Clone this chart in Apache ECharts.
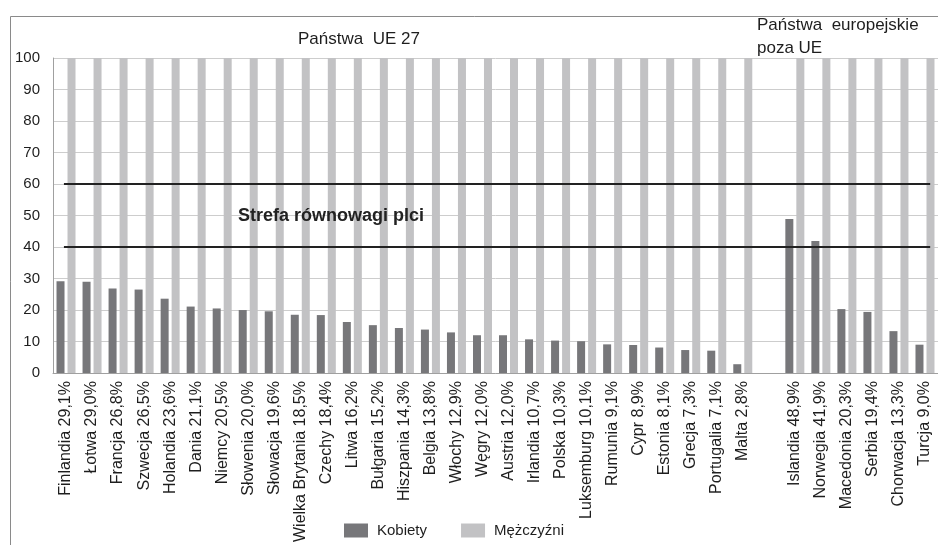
<!DOCTYPE html>
<html>
<head>
<meta charset="utf-8">
<script src="https://cdn.jsdelivr.net/npm/echarts@6/dist/echarts.min.js"></script>
<style>
html,body{margin:0;padding:0;background:#fff;}
#chart{width:938px;height:545px;}
</style>
</head>
<body>
<div id="chart"></div>
<script>
// ---- data ----
var categories = [
  'Finlandia 29,1%', 'Łotwa 29,0%', 'Francja 26,8%', 'Szwecja 26,5%', 'Holandia 23,6%',
  'Dania 21,1%', 'Niemcy 20,5%', 'Słowenia 20,0%', 'Słowacja 19,6%', 'Wielka Brytania 18,5%',
  'Czechy 18,4%', 'Litwa 16,2%', 'Bułgaria 15,2%', 'Hiszpania 14,3%', 'Belgia 13,8%',
  'Włochy 12,9%', 'Węgry 12,0%', 'Austria 12,0%', 'Irlandia 10,7%', 'Polska 10,3%',
  'Luksemburg 10,1%', 'Rumunia 9,1%', 'Cypr 8,9%', 'Estonia 8,1%', 'Grecja 7,3%',
  'Portugalia 7,1%', 'Malta 2,8%', '',
  'Islandia 48,9%', 'Norwegia 41,9%', 'Macedonia 20,3%', 'Serbia 19,4%', 'Chorwacja 13,3%', 'Turcja 9,0%'
];
var kobiety = [
  29.1, 29.0, 26.8, 26.5, 23.6,
  21.1, 20.5, 20.0, 19.6, 18.5,
  18.4, 16.2, 15.2, 14.3, 13.8,
  12.9, 12.0, 12.0, 10.7, 10.3,
  10.1, 9.1, 8.9, 8.1, 7.3,
  7.1, 2.8, null,
  48.9, 41.9, 20.3, 19.4, 13.3, 9.0
];
var mezczyzni = [
  100, 100, 100, 100, 100,
  100, 100, 100, 100, 100,
  100, 100, 100, 100, 100,
  100, 100, 100, 100, 100,
  100, 100, 100, 100, 100,
  100, 100, null,
  100, 100, 100, 100, 100, 100
];
var seriesNames = ['Kobiety', 'Mężczyźni'];
var yTicks = { min: 0, max: 100, interval: 10 };
var balanceLower = 40;
var balanceUpper = 60;
var groupTitles = ['Państwa  UE 27', 'Państwa  europejskie\npoza UE'];
var zoneLabel = 'Strefa równowagi plci';
// line extent on a hidden continuous x axis spanning the category slots
var lineStart = 0.42, lineEnd = 33.7;

var FONT = 'Liberation Sans, Arial, sans-serif';
var chart = echarts.init(document.getElementById('chart'));

var option = {
  animation: false,
  backgroundColor: '#ffffff',
  textStyle: { fontFamily: FONT },
  title: [
    { text: groupTitles[0], left: 298, top: 31, padding: 0,
      textStyle: { fontFamily: FONT, fontSize: 17, fontWeight: 'normal', color: '#1e1e1e' } },
    { text: groupTitles[1], left: 757, top: 14, padding: 0,
      textStyle: { fontFamily: FONT, fontSize: 17, fontWeight: 'normal', color: '#1e1e1e', lineHeight: 23 } }
  ],
  legend: {
    data: seriesNames,
    left: 344, top: 523, padding: 0,
    itemWidth: 24, itemHeight: 14, itemGap: 34,
    icon: 'rect',
    textStyle: { fontFamily: FONT, fontSize: 15, color: '#1e1e1e', padding: [0, 0, 0, 4] }
  },
  grid: { left: 53, right: 0, top: 58, bottom: 170, containLabel: false },
  xAxis: [
    {
      type: 'category',
      data: categories,
      axisLine: { lineStyle: { color: '#a0a0a0', width: 1 } },
      axisTick: { show: false },
      axisLabel: { interval: 0, rotate: 90, fontSize: 16, color: '#1e1e1e', margin: 8, fontFamily: FONT }
    },
    {
      type: 'value', min: 0, max: categories.length, show: false
    }
  ],
  yAxis: {
    type: 'value',
    min: yTicks.min, max: yTicks.max, interval: yTicks.interval,
    axisLine: { show: true, lineStyle: { color: '#a0a0a0', width: 1 } },
    axisTick: { show: false },
    splitLine: { lineStyle: { color: '#cdcdcd', width: 1 } },
    axisLabel: { fontSize: 15, color: '#1e1e1e', margin: 13, fontFamily: FONT }
  },
  series: [
    {
      name: seriesNames[0], type: 'bar', data: kobiety,
      barWidth: 8, barGap: '37.5%',
      itemStyle: { color: '#77777a' }
    },
    {
      name: seriesNames[1], type: 'bar', data: mezczyzni,
      barWidth: 8,
      itemStyle: { color: '#c2c2c4' }
    },
    {
      type: 'line', xAxisIndex: 1, symbol: 'none', silent: true, z: 5,
      data: [[lineStart, balanceUpper], [lineEnd, balanceUpper]],
      lineStyle: { color: '#222222', width: 2 }
    },
    {
      type: 'line', xAxisIndex: 1, symbol: 'none', silent: true, z: 5,
      data: [[lineStart, balanceLower], [lineEnd, balanceLower]],
      lineStyle: { color: '#222222', width: 2 }
    }
  ],
  graphic: [
    { type: 'rect', left: 8, top: 14, shape: { width: 940, height: 560 },
      style: { fill: 'none', stroke: '#8a8a8a', lineWidth: 1 }, silent: true, z: -1 },
    { type: 'text', left: 238, top: 207, z: 100,
      style: { text: zoneLabel, font: 'bold 18px ' + FONT, fill: '#222222' } }
  ]
};
chart.setOption(option);
</script>
</body>
</html>
